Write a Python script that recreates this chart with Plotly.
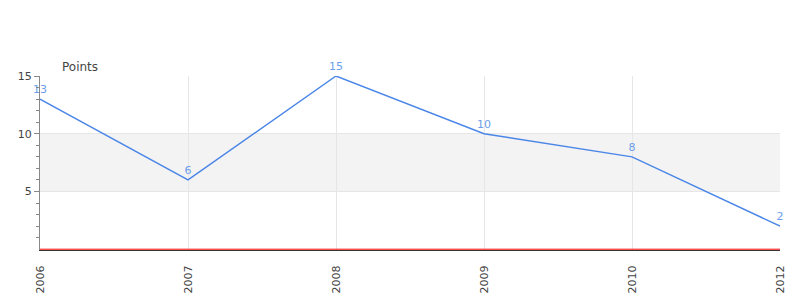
import plotly.graph_objects as go

years = ["2006", "2007", "2008", "2009", "2010", "2012"]
x_pos = [2006, 2007, 2008, 2009, 2010, 2011]
points = [13, 6, 15, 10, 8, 2]
y_ticks = [5, 10, 15]

fig = go.Figure()
fig.add_trace(go.Scatter(
    x=x_pos, y=points, mode="lines+markers+text",
    line=dict(color="#4a86e8", width=1.4),
    marker=dict(size=3, opacity=0),
    text=[str(v) for v in points], textposition="top center",
    textfont=dict(family="DejaVu Sans", size=11, color="#6d9eeb"),
    cliponaxis=False, hoverinfo="skip", showlegend=False,
))

# shaded band between 5 and 10
fig.add_shape(type="rect", xref="paper", yref="y", x0=0, x1=1, y0=5, y1=10,
              fillcolor="#f3f3f3", line=dict(width=0), layer="below")
# red baseline at zero
fig.add_shape(type="line", xref="paper", yref="y", x0=0, x1=1, y0=0, y1=0,
              line=dict(color="#ff0000", width=1), layer="above")

fig.add_annotation(text="Points", xref="paper", yref="paper", x=0.027, y=1.0,
                   xanchor="left", yanchor="bottom", showarrow=False,
                   font=dict(family="DejaVu Sans", size=12, color="#444444"))

fig.update_layout(
    width=800, height=300,
    margin=dict(l=40, r=20, t=76, b=50),
    paper_bgcolor="white", plot_bgcolor="white",
    font=dict(family="DejaVu Sans", size=11, color="#444444"),
)
fig.update_xaxes(
    range=[2006, 2011], tickmode="array", tickvals=x_pos, ticktext=years,
    tickangle=-90, showgrid=True, gridcolor="#e6e6e6", gridwidth=1,
    showline=True, linecolor="#333333", linewidth=1, zeroline=False,
    ticks="", ticklabelstandoff=10, automargin=False, fixedrange=True,
)
fig.update_yaxes(
    range=[-0.07, 15], tickmode="array", tickvals=y_ticks,
    showgrid=True, gridcolor="#e6e6e6", gridwidth=1,
    showline=True, linecolor="#888888", linewidth=1, zeroline=False,
    ticks="outside", ticklen=5, tickcolor="#888888", automargin=False,
    minor=dict(tickmode="array", tickvals=[1, 2, 3, 4, 6, 7, 8, 9, 11, 12, 13, 14],
               ticks="outside", ticklen=3, tickcolor="#888888", showgrid=False),
    fixedrange=True,
)

fig.write_html("out.html")
